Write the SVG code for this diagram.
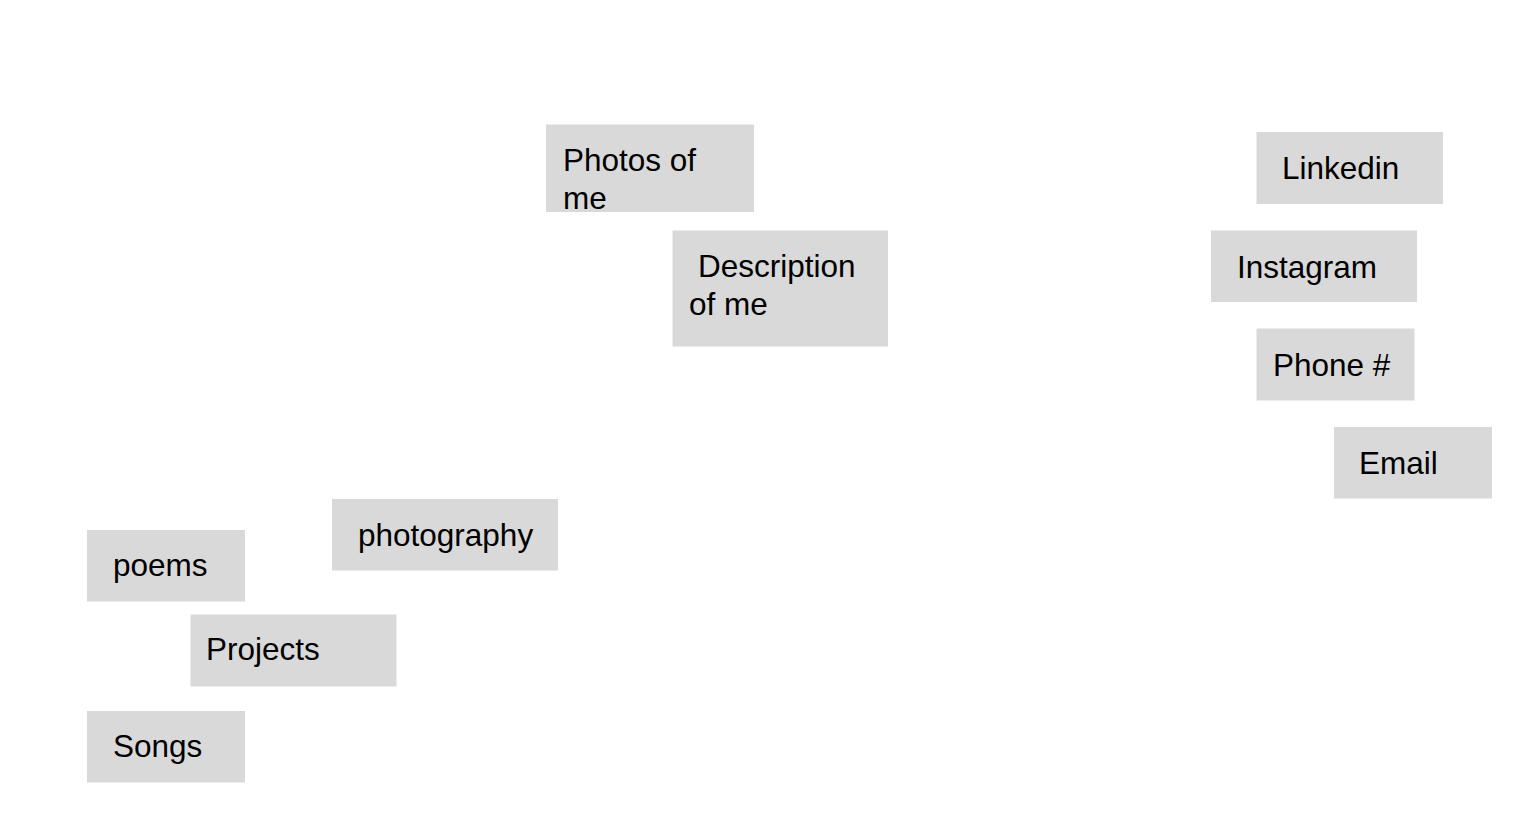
<svg xmlns="http://www.w3.org/2000/svg" width="1528" height="840" viewBox="0 0 1528 840">
<style>
.box{fill:#d9d9d9;}
.lbl{font-family:"Liberation Sans",Arial,sans-serif;font-size:31.5px;fill:#000;}
</style>
<rect width="1528" height="840" fill="#ffffff"/>
<g id="connectors"></g>
<g id="photos-of-me"><rect class="box" x="546" y="124.5" width="208" height="87.5"/><text class="lbl" x="563" y="171">Photos of</text><text class="lbl" x="563" y="208.5">me</text></g>
<g id="description-of-me"><rect class="box" x="672.5" y="230.5" width="215.5" height="116"/><text class="lbl" x="698" y="277">Description</text><text class="lbl" x="689" y="314.5">of me</text></g>
<g id="linkedin"><rect class="box" x="1256.5" y="132" width="186.5" height="72"/><text class="lbl" x="1282" y="179">Linkedin</text></g>
<g id="instagram"><rect class="box" x="1211" y="230.5" width="206" height="71.5"/><text class="lbl" x="1237" y="278">Instagram</text></g>
<g id="phone"><rect class="box" x="1256.5" y="328.5" width="158" height="72"/><text class="lbl" x="1273" y="376">Phone #</text></g>
<g id="email"><rect class="box" x="1334" y="427" width="158" height="71.5"/><text class="lbl" x="1359" y="474">Email</text></g>
<g id="photography"><rect class="box" x="332" y="499" width="226" height="71.5"/><text class="lbl" x="358" y="546">photography</text></g>
<g id="poems"><rect class="box" x="87" y="530" width="158" height="71.5"/><text class="lbl" x="113" y="576">poems</text></g>
<g id="projects"><rect class="box" x="190.5" y="614.5" width="206" height="72"/><text class="lbl" x="206" y="660">Projects</text></g>
<g id="songs"><rect class="box" x="87" y="711" width="158" height="71.5"/><text class="lbl" x="113" y="757">Songs</text></g>
</svg>
